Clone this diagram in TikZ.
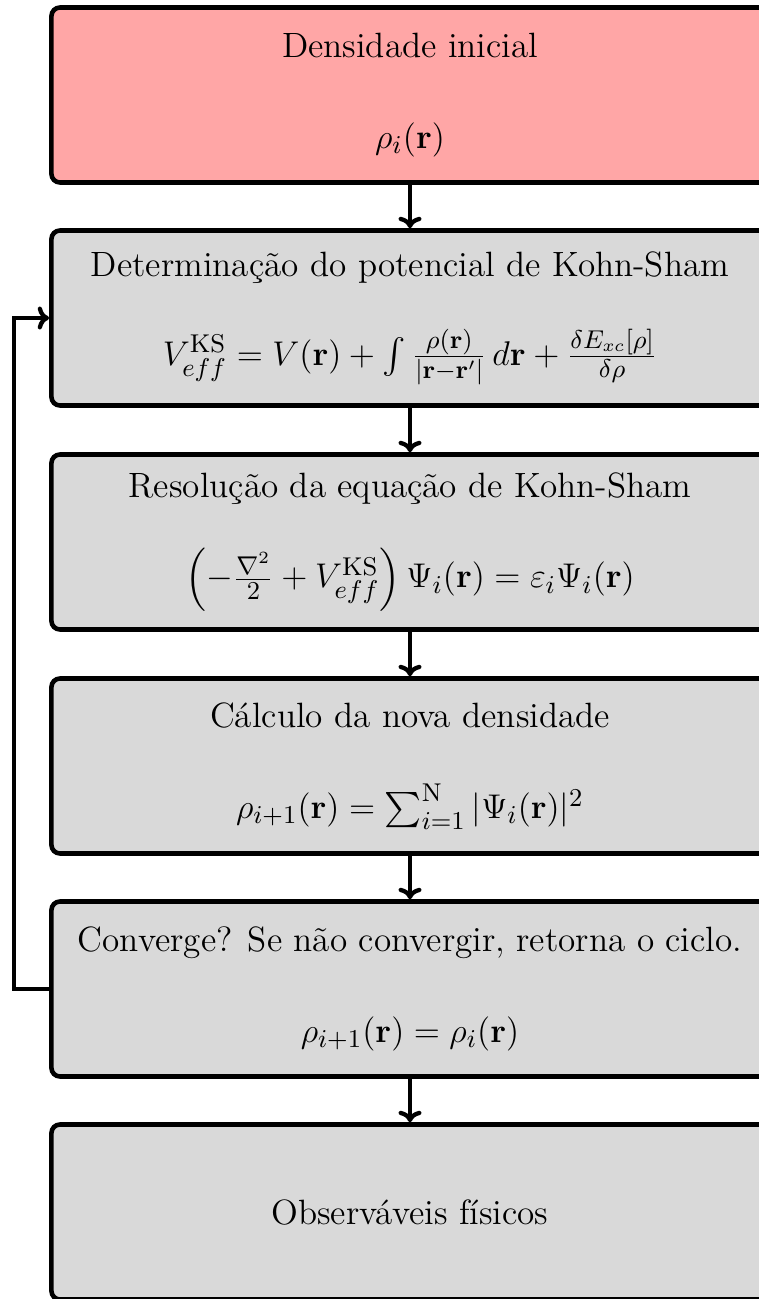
\documentclass[tikz,border=0pt]{standalone}
\usepackage{amsmath,amssymb}
\usepackage{tikz}
\usetikzlibrary{arrows.meta,positioning,calc}
\definecolor{ksRose}{HTML}{FFA6A6}
\definecolor{ksGrey}{HTML}{D9D9D9}

\tikzset{
  ksbox/.style={draw=black,fill=ksGrey,line width=1.6pt,rounded corners=3pt,
        minimum width=251pt,minimum height=61.25pt,align=center,inner sep=0pt},
  ksarrow/.style={-{To[length=4pt,width=8pt]},line width=1.5pt}
}

\begin{document}
\begin{tikzpicture}[x=0.35pt,y=-0.35pt,font=\fontsize{12.3pt}{14.8pt}\selectfont]
  \useasboundingbox (0,0) rectangle (759,1299);
  \node[ksbox,fill=ksRose] (dens) at (410,95)
    {Densidade inicial\\[17pt] $\rho_i(\mathbf{r})$};
  \node[ksbox] (pot) at (410,318)
    {Determina\c{c}\~ao do potencial de Kohn-Sham\\[15pt]
     $V^{\mathrm{KS}}_{eff} = V(\mathbf{r}) + \int \frac{\rho(\mathbf{r})}{|\mathbf{r}-\mathbf{r}'|}\, d\mathbf{r} + \frac{\delta E_{xc}[\rho]}{\delta\rho}$};
  \node[ksbox] (eqks) at (410,542)
    {Resolu\c{c}\~ao da equa\c{c}\~ao de Kohn-Sham\\[14pt]
     $\left(-\frac{\nabla^2}{2} + V^{\mathrm{KS}}_{eff}\right)\Psi_i(\mathbf{r}) = \varepsilon_i\Psi_i(\mathbf{r})$};
  \node[ksbox] (nova) at (410,766)
    {C\'alculo da nova densidade\\[17pt]
     $\rho_{i+1}(\mathbf{r}) = \sum_{i=1}^{\mathrm{N}} |\Psi_i(\mathbf{r})|^2$};
  \node[ksbox] (conv) at (410,989)
    {Converge? Se n\~ao convergir, retorna o ciclo.\\[17pt]
     $\rho_{i+1}(\mathbf{r}) = \rho_i(\mathbf{r})$};
  \node[ksbox] (obs) at (410,1212) {Observ\'aveis f\'isicos};

  % fluxo principal
  \draw[ksarrow] (dens) -- (pot);
  \draw[ksarrow] (pot) -- (eqks);
  \draw[ksarrow] (eqks) -- (nova);
  \draw[ksarrow] (nova) -- (conv);
  \draw[ksarrow] (conv) -- (obs);
  % retorno do ciclo
  \coordinate (loop) at (14,0);
  \draw[ksarrow] (conv.west) -| (loop |- pot.west) -- (pot.west);
\end{tikzpicture}
\end{document}
